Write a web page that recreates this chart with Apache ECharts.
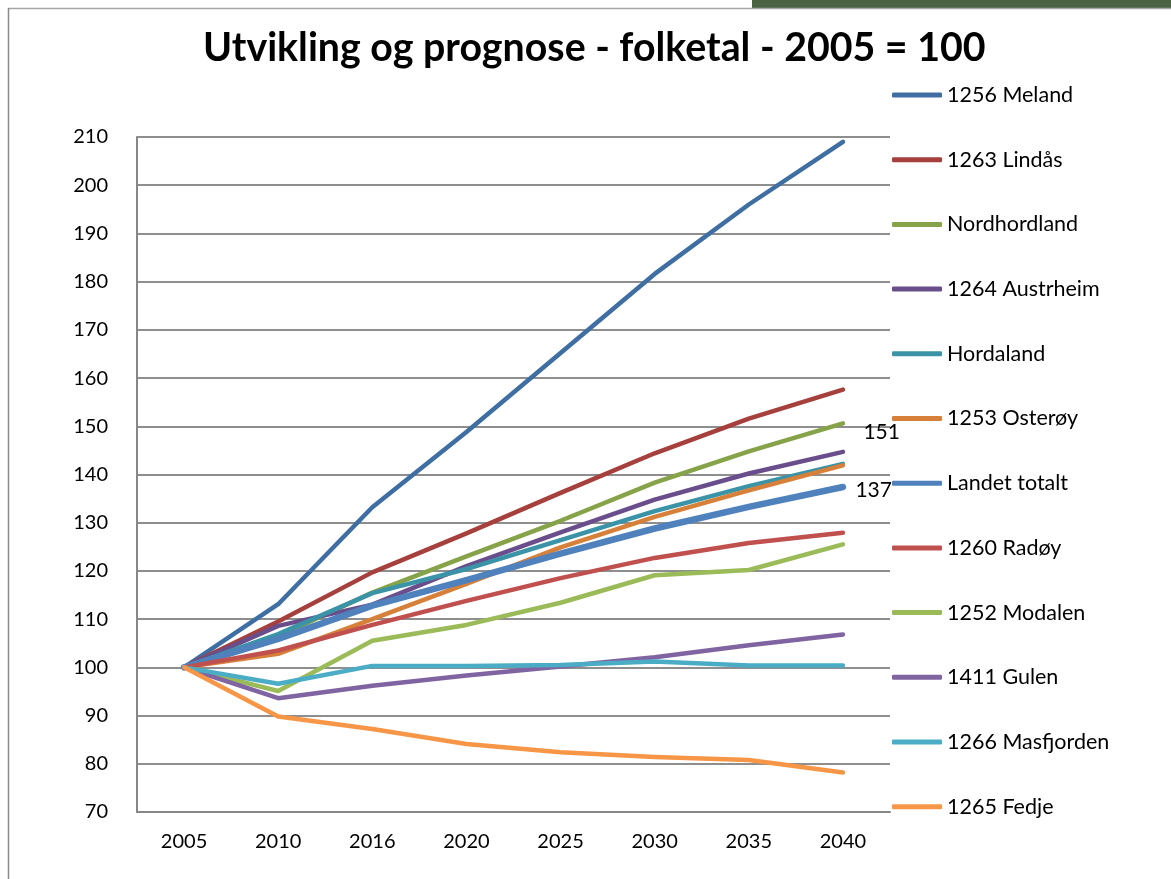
<!DOCTYPE html>
<html>
<head>
<meta charset="utf-8">
<script src="https://cdn.jsdelivr.net/npm/echarts@6/dist/echarts.min.js"></script>
<style>
  html, body { margin: 0; padding: 0; background: #fff; }
  #chart { width: 1171px; height: 879px; }
</style>
</head>
<body>
<div id="chart"></div>
<script>
// årstal langs x-aksen
var years = ['2005', '2010', '2016', '2020', '2025', '2030', '2035', '2040'];

// indeks, 2005 = 100
var meland      = [100, 113.1, 133.2, 148.8, 165.2, 181.6, 196.0, 209.0];
var lindas      = [100, 109.5, 119.7, 127.8, 136.2, 144.4, 151.6, 157.6];
var nordhordland= [100, 106.4, 115.5, 123.0, 130.4, 138.3, 144.8, 150.6];
var austrheim   = [100, 108.6, 113.0, 121.0, 128.0, 134.8, 140.2, 144.7];
var hordaland   = [100, 106.9, 115.4, 120.4, 126.4, 132.4, 137.6, 142.2];
var osteroy     = [100, 102.8, 110.0, 117.3, 124.9, 131.2, 136.7, 141.9];
var landet      = [100, 105.9, 112.8, 118.1, 123.6, 128.8, 133.3, 137.4];
var radoy       = [100, 103.5, 108.8, 113.8, 118.5, 122.7, 125.8, 127.9];
var modalen     = [100, 95.1, 105.5, 108.8, 113.4, 119.1, 120.2, 125.5];
var gulen       = [100, 93.6, 96.2, 98.3, 100.2, 102.1, 104.6, 106.8];
var masfjorden  = [100, 96.6, 100.3, 100.3, 100.5, 101.2, 100.4, 100.4];
var fedje       = [100, 89.8, 87.2, 84.1, 82.4, 81.4, 80.8, 78.2];

var yTicks = { min: 70, max: 210, step: 10 };

var FONT = 'Lato, "Open Sans", sans-serif';

function serie(name, data, color, width, lbl) {
    var d = data.slice();
    if (lbl) {
        // siste punkt får verdi-etikett (symbol trengst for at etiketten skal teiknast)
        var last = d.length - 1;
        d[last] = {
            value: data[last],
            symbol: 'circle',
            symbolSize: 1,
            itemStyle: { color: color },
            label: {
                show: true,
                position: 'right',
                distance: lbl[0],
                offset: [0, lbl[1]],
                color: '#000',
                fontSize: 21,
                fontFamily: FONT,
                formatter: function (p) { return Math.round(p.value); }
            }
        };
    }
    return {
        name: name,
        type: 'line',
        data: d,
        symbol: 'none',
        color: color,
        lineStyle: { width: width, color: color, cap: 'round', join: 'round' },
        emphasis: { disabled: true }
    };
}

var myChart = echarts.init(document.getElementById('chart'));
var option = {
    backgroundColor: '#fff',
    animation: false,
    title: {
        text: 'Utvikling og prognose - folketal - 2005 = 100',
        left: 203,
        top: 29,
        padding: 0,
        textStyle: { fontFamily: FONT, fontWeight: 'bold', fontSize: 39.3, color: '#000' }
    },
    legend: {
        orient: 'vertical',
        left: 892,
        top: 84,
        padding: 0,
        itemWidth: 50,
        itemHeight: 5,
        itemGap: 42.7,
        icon: 'roundRect',
        textStyle: { fontFamily: FONT, fontSize: 21.5, color: '#000', lineHeight: 20 }
    },
    grid: { left: 137, right: 281, top: 137, bottom: 67 },
    xAxis: {
        type: 'category',
        data: years,
        boundaryGap: true,
        axisLine: { lineStyle: { color: '#878787', width: 2 } },
        axisTick: { show: false },
        axisLabel: { color: '#000', fontSize: 20, fontFamily: FONT, margin: 20 }
    },
    yAxis: {
        type: 'value',
        min: yTicks.min,
        max: yTicks.max,
        interval: yTicks.step,
        axisLine: { show: true, lineStyle: { color: '#878787', width: 2 } },
        axisTick: { show: false },
        splitLine: { lineStyle: { color: '#8e8e8e', width: 2 } },
        axisLabel: { color: '#000', fontSize: 20, fontFamily: FONT, margin: 29 }
    },
    graphic: [
        { type: 'rect', left: 752, top: 0, shape: { width: 419, height: 8 }, style: { fill: '#4b6343' } },
        { type: 'line', shape: { x1: 8, y1: 8.5, x2: 1171, y2: 8.5 }, style: { stroke: '#a6a6a6', lineWidth: 1.5 } },
        { type: 'line', shape: { x1: 8.5, y1: 8, x2: 8.5, y2: 879 }, style: { stroke: '#8a8a8a', lineWidth: 1.5 } }
    ],
    series: [
        serie('1256 Meland', meland, '#3f6ea3', 4.5),
        serie('1263 Lindås', lindas, '#a5403d', 4.5),
        serie('Nordhordland', nordhordland, '#86a349', 4.5, [20, 9]),
        serie('1264 Austrheim', austrheim, '#6a4e8c', 4.5),
        serie('Hordaland', hordaland, '#3a93a6', 4.5),
        serie('1253 Osterøy', osteroy, '#d7803a', 4.5),
        serie('Landet totalt', landet, '#4f81bd', 6.5, [12, 3]),
        serie('1260 Radøy', radoy, '#c0504d', 4.5),
        serie('1252 Modalen', modalen, '#9bbb59', 4.5),
        serie('1411 Gulen', gulen, '#8064a2', 4.5),
        serie('1266 Masfjorden', masfjorden, '#4bacc6', 4.5),
        serie('1265 Fedje', fedje, '#f79646', 4.5)
    ]
};
myChart.setOption(option);
window.addEventListener('resize', function () {
    myChart.resize();
});
</script>
</body>
</html>
